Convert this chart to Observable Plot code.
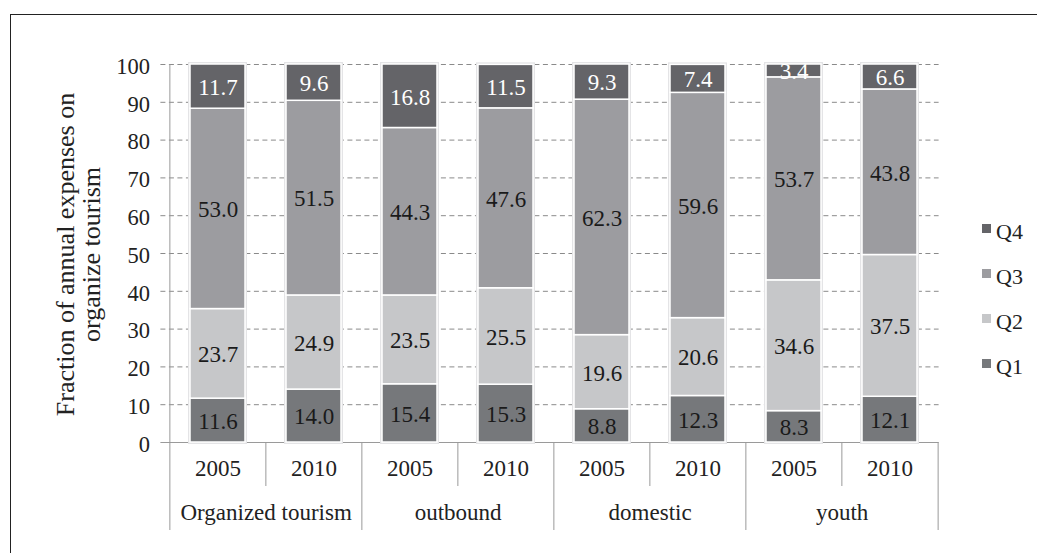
<!DOCTYPE html>
<html><head><meta charset="utf-8">
<script src="https://cdn.jsdelivr.net/npm/d3@7"></script>
<script src="https://cdn.jsdelivr.net/npm/@observablehq/plot@0.6"></script>
<style>
body{margin:0;background:#fff;}
#wrap{position:relative;width:1037px;height:553px;overflow:hidden;font-family:"Liberation Serif","Times New Roman",serif;}
#frame{position:absolute;left:10px;top:14px;width:1100px;height:600px;border-left:1.5px solid #222;border-top:1.5px solid #222;pointer-events:none;}
#legend{position:absolute;left:982px;top:209px;font-size:22px;color:#222;}
#legend .it{height:45px;display:flex;align-items:center;}
#legend .sw{width:9px;height:9px;margin-right:5px;position:relative;top:-3px;}
#chart{position:absolute;left:0;top:0;}
#chart svg, #chart svg text{font-family:"Liberation Serif","Times New Roman",serif !important;}
</style></head><body>
<div id="wrap"><div id="chart"></div><div id="legend"></div><div id="frame"></div></div>
<script>
const groups = ["Organized tourism", "outbound", "domestic", "youth"];
const years = ["2005", "2010"];
const series = ["Q1", "Q2", "Q3", "Q4"];
const q1 = [11.6, 14.0, 15.4, 15.3, 8.8, 12.3, 8.3, 12.1];
const q2 = [23.7, 24.9, 23.5, 25.5, 19.6, 20.6, 34.6, 37.5];
const q3 = [53.0, 51.5, 44.3, 47.6, 62.3, 59.6, 53.7, 43.8];
const q4 = [11.7, 9.6, 16.8, 11.5, 9.3, 7.4, 3.4, 6.6];
const yTicks = [0, 10, 20, 30, 40, 50, 60, 70, 80, 90, 100];
const colors = ["#76787b", "#c6c7c9", "#9c9ca0", "#646468"];
const yTitle = "Fraction of annual expenses on\norganize tourism";

const values = [q1, q2, q3, q4];
const keys = [];
groups.forEach(g => years.forEach(y => keys.push(g + "|" + y)));
const data = [];
keys.forEach((k, i) => series.forEach((s, j) => data.push({key: k, series: s, value: values[j][i]})));

const W = 1037, H = 553, mL = 168.4, mR = 98.4, mT = 64, mB = 111;
const step = (W - mL - mR) / keys.length;
const plotH = H - mT - mB;
const font = "'Liberation Serif', 'Times New Roman', serif";

const groupStarts = groups.map(g => g + "|" + years[0]);
const yearSeps = groups.map(g => g + "|" + years[1]);

const chart = Plot.plot({
  width: W, height: H,
  marginLeft: mL, marginRight: mR, marginTop: mT, marginBottom: mB,
  style: {fontFamily: font, fontSize: "22px", background: "transparent", color: "#222"},
  x: {domain: keys, type: "band", paddingInner: 0.43, paddingOuter: 0.215, axis: null},
  y: {domain: [0, 100], axis: null},
  color: {domain: series, range: colors},
  marks: [
    Plot.gridY(yTicks.filter(t => t > 0), {stroke: "#8a8a8a", strokeOpacity: 1, strokeDasharray: "5,3.5", insetLeft: -8}),
    Plot.ruleY([0], {stroke: "#9a9a9a", insetLeft: -8}),
    Plot.axisY({ticks: yTicks, tickSize: 0, tickPadding: 19, fontSize: 22.5, label: null, dy: 2}),
    Plot.ruleX([keys[0]], {dx: -step / 2, stroke: "#9a9a9a", insetBottom: -88}),
    Plot.ruleX(yearSeps, {dx: -step / 2, stroke: "#9a9a9a", insetTop: plotH, insetBottom: -44}),
    Plot.ruleX(groupStarts.slice(1), {dx: -step / 2, stroke: "#9a9a9a", insetTop: plotH, insetBottom: -88}),
    Plot.ruleX([keys[keys.length - 1]], {dx: step / 2, stroke: "#9a9a9a", insetTop: plotH, insetBottom: -88}),
    Plot.barY(data, {x: "key", y: "value", fill: "none", stroke: "#e4e4e6", strokeWidth: 4}),
    Plot.barY(data, {x: "key", y: "value", fill: "series", stroke: "white", strokeWidth: 1.5}),
    Plot.text(data, Plot.stackY({x: "key", y: "value", text: d => d.value.toFixed(1), fill: d => d.series === "Q4" ? "white" : "#1a1a1a", fontSize: 23, dy: 1})),
    Plot.text(keys, {x: d => d, text: d => d.split("|")[1], frameAnchor: "bottom", dy: 33, fontSize: 23, fill: "#222"}),
    Plot.text(groupStarts, {x: d => d, text: d => d.split("|")[0], dx: step / 2, frameAnchor: "bottom", dy: 77, fontSize: 23, fill: "#222"}),
    Plot.text([yTitle], {text: d => d, frameAnchor: "left", textAnchor: "middle", rotate: -90, dx: -90, dy: 1, fontSize: 26, lineHeight: 1.0, fill: "#222"})
  ]
});
document.getElementById("chart").appendChild(chart);

const legend = document.getElementById("legend");
series.slice().reverse().forEach(s => {
  const it = document.createElement("div");
  it.className = "it";
  const sw = document.createElement("span");
  sw.className = "sw";
  sw.style.background = colors[series.indexOf(s)];
  const t = document.createElement("span");
  t.textContent = s;
  it.appendChild(sw); it.appendChild(t);
  legend.appendChild(it);
});
</script>
</body></html>
